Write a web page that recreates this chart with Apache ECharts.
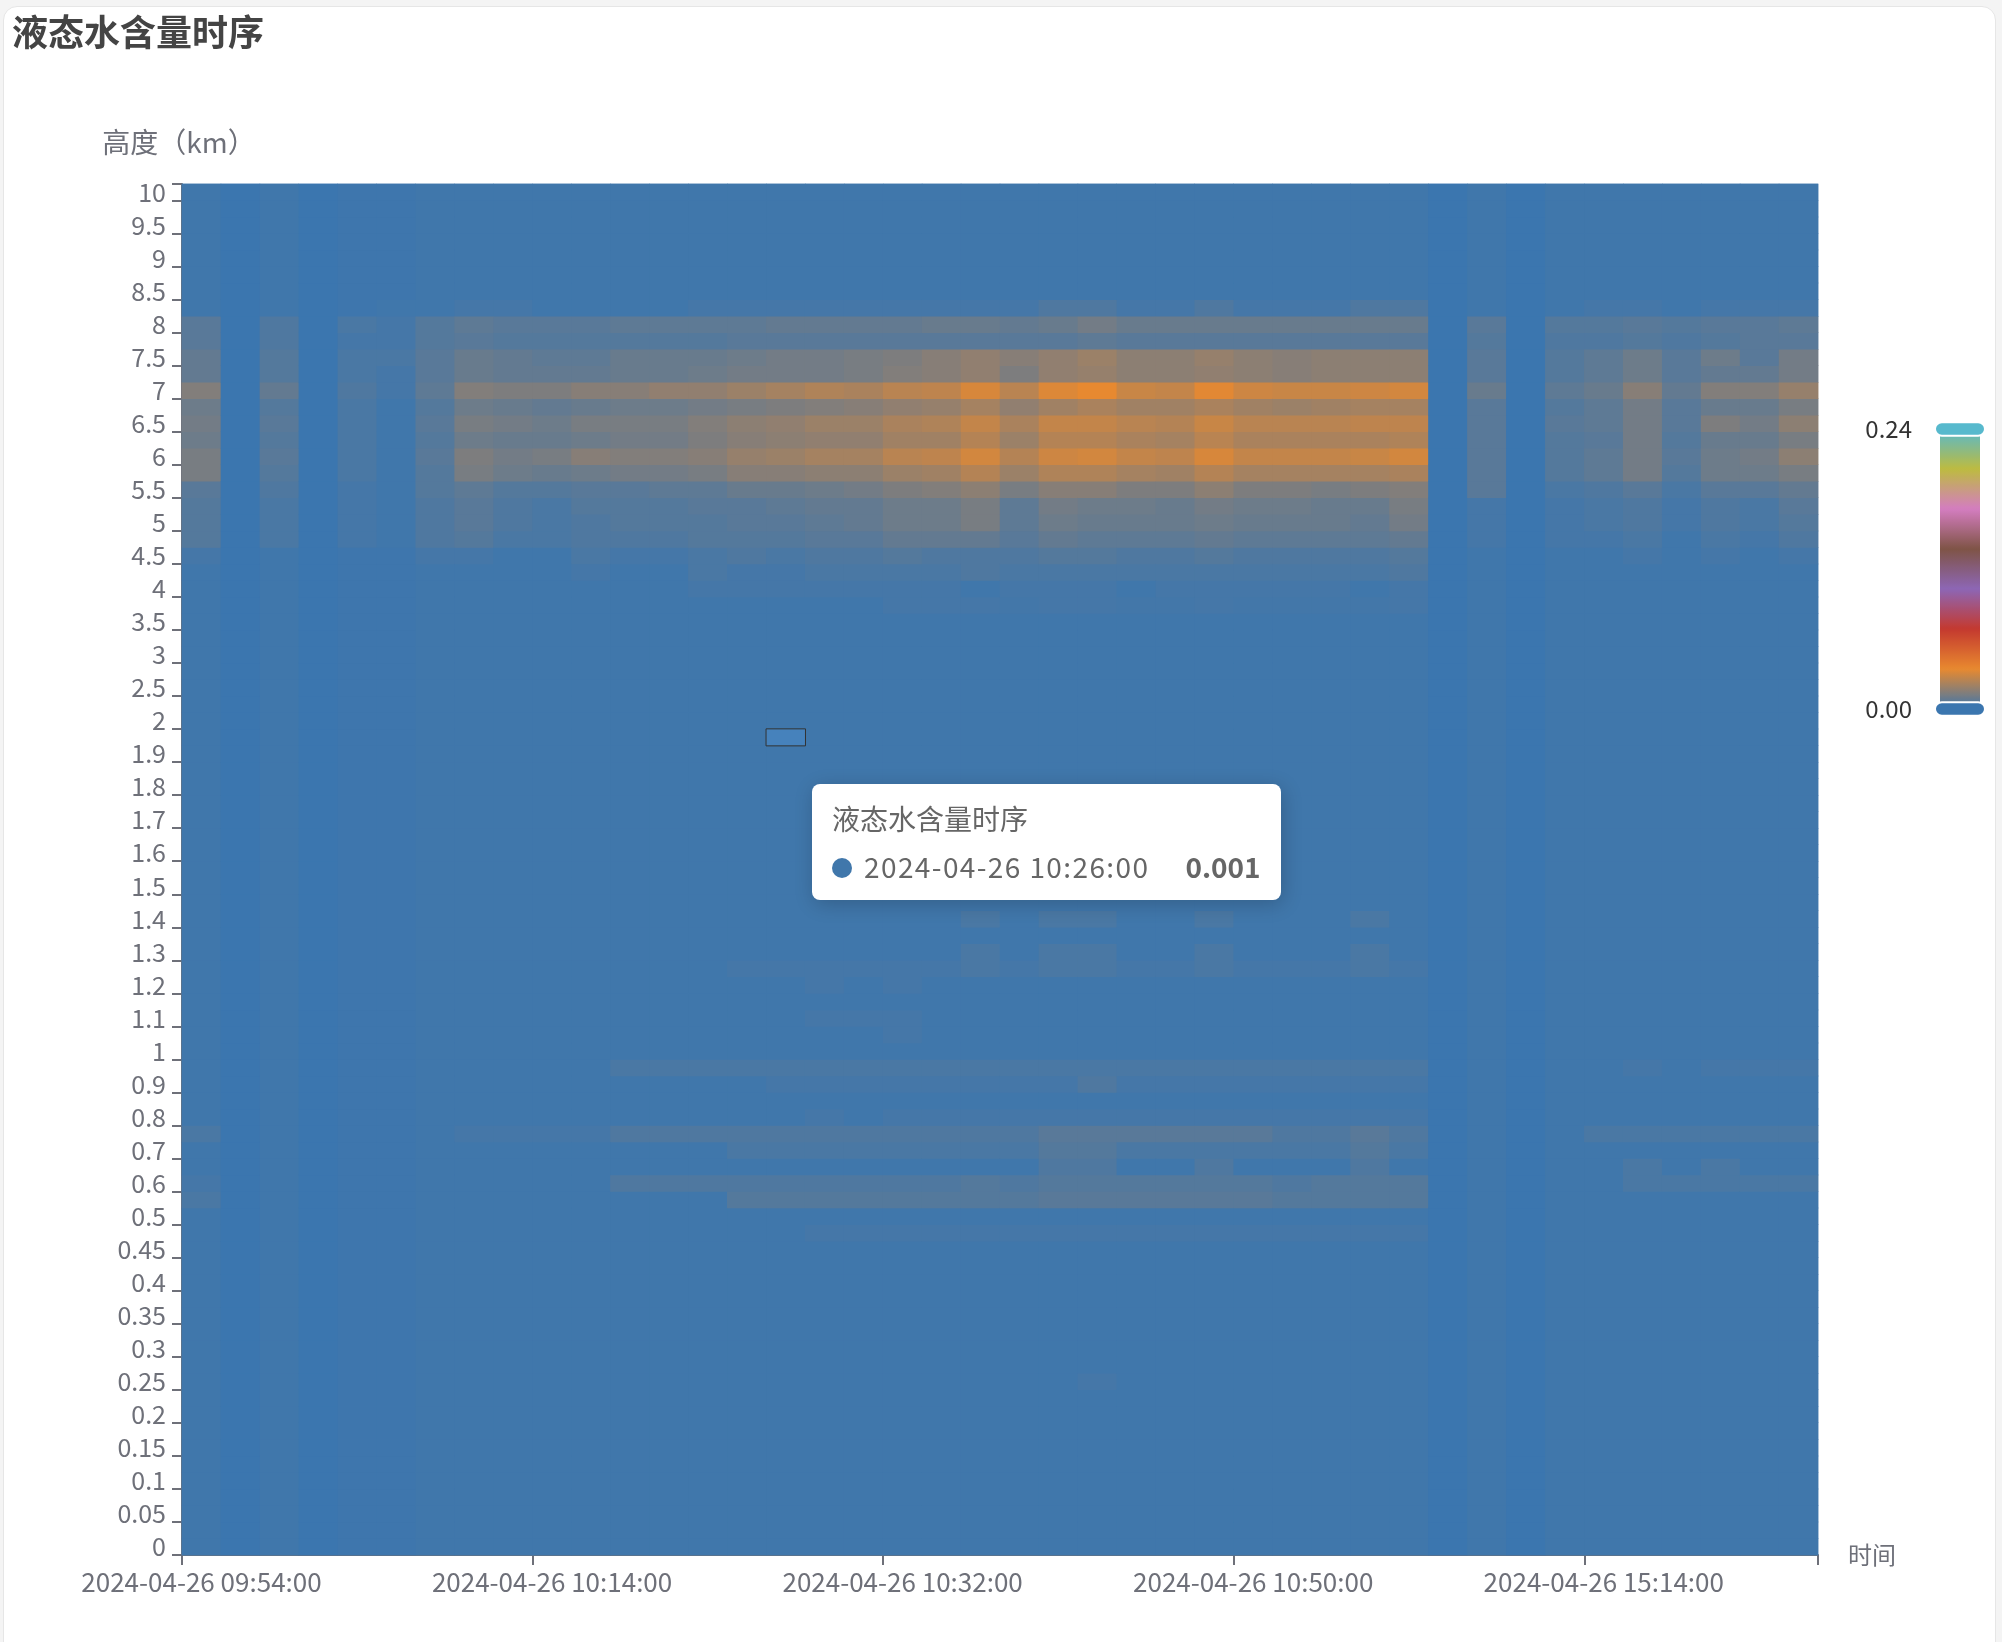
<!DOCTYPE html>
<html>
<head>
<meta charset="utf-8">
<script src="https://cdn.jsdelivr.net/npm/echarts@6/dist/echarts.min.js"></script>
<style>
  html, body { margin: 0; padding: 0; background: #f4f4f4; width: 2002px; height: 1642px; overflow: hidden; }
  #card { position: absolute; left: 3px; top: 6px; width: 1991px; height: 1700px; background: #fff; border: 1px solid #e6e6e6; border-radius: 14px; }
  #chart { position: absolute; left: 0; top: 0; width: 2002px; height: 1642px; }
</style>
</head>
<body>
<div id="card"></div>
<div id="chart"></div>
<script>
// ---- time categories (x axis) ----
const times = [
  '2024-04-26 09:54:00','2024-04-26 09:56:00','2024-04-26 09:58:00','2024-04-26 10:00:00','2024-04-26 10:02:00',
  '2024-04-26 10:04:00','2024-04-26 10:06:00','2024-04-26 10:08:00','2024-04-26 10:10:00','2024-04-26 10:14:00',
  '2024-04-26 10:16:00','2024-04-26 10:18:00','2024-04-26 10:20:00','2024-04-26 10:22:00','2024-04-26 10:24:00',
  '2024-04-26 10:26:00','2024-04-26 10:28:00','2024-04-26 10:30:00','2024-04-26 10:32:00','2024-04-26 10:34:00',
  '2024-04-26 10:36:00','2024-04-26 10:38:00','2024-04-26 10:40:00','2024-04-26 10:42:00','2024-04-26 10:44:00',
  '2024-04-26 10:46:00','2024-04-26 10:48:00','2024-04-26 10:50:00','2024-04-26 10:52:00','2024-04-26 10:54:00',
  '2024-04-26 10:56:00','2024-04-26 10:58:00','2024-04-26 15:06:00','2024-04-26 15:08:00','2024-04-26 15:10:00',
  '2024-04-26 15:12:00','2024-04-26 15:14:00','2024-04-26 15:16:00','2024-04-26 15:18:00','2024-04-26 15:20:00',
  '2024-04-26 15:22:00','2024-04-26 15:24:00'
];

// ---- height categories (y axis, km) ----
const heights = [
  '0','0.025','0.05','0.075','0.1','0.125','0.15','0.175','0.2','0.225','0.25','0.275','0.3','0.325','0.35','0.375','0.4','0.425','0.45','0.475','0.5',
  '0.55','0.6','0.65','0.7','0.75','0.8','0.85','0.9','0.95','1','1.05','1.1','1.15','1.2','1.25','1.3','1.35','1.4','1.45','1.5',
  '1.55','1.6','1.65','1.7','1.75','1.8','1.85','1.9','1.95','2',
  '2.25','2.5','2.75','3','3.25','3.5','3.75','4','4.25','4.5','4.75','5','5.25','5.5','5.75','6','6.25','6.5','6.75','7',
  '7.25','7.5','7.75','8','8.25','8.5','8.75','9','9.25','9.5','9.75','10'
];

// ---- background liquid water content of each time column (clear-air level) ----
const baseLwc = [.001,0,.001,0,.0005,.0005,.001,.001,.001,.001, .001,.001,.001,.001,.001,.001,.001,.001,.001,.001, .001,.001,.001,.001,.001,.001,.001,.001,.001,.001, .001,.001,0,.001,0,.001,.001,.001,.001,.001, .001,.001];

// ---- upper cloud layer: one row of 42 values per height ----
const upperLayerHeights = ['8.25','8','7.75','7.5','7.25','7','6.75','6.5','6.25','6','5.75','5.5','5.25','5','4.75','4.5','4.25','4','3.75'];
const upperLayerLwc = [
  [.001,0,.001,0,.0005,.001,.001,.002,.002,.001, .001,.001,.001,.002,.002,.002,.002,.002,.002,.002, .002,.002,.004,.004,.002,.002,.004,.002,.002,.002, .004,.004,0,.001,0,.001,.002,.002,.001,.002, .002,.002],
  [.006,0,.004,0,.003,.002,.005,.007,.006,.006, .006,.007,.007,.007,.007,.008,.008,.008,.008,.009, .009,.008,.009,.011,.009,.009,.009,.009,.009,.009, .009,.009,0,.006,0,.005,.005,.006,.005,.006, .006,.007],
  [.006,0,.004,0,.002,.002,.005,.006,.005,.005, .005,.005,.005,.005,.006,.006,.006,.006,.006,.006, .006,.006,.006,.007,.006,.006,.006,.006,.006,.006, .006,.006,0,.005,0,.004,.004,.005,.004,.005, .006,.006],
  [.008,0,.005,0,.003,.003,.006,.009,.008,.007, .007,.009,.009,.009,.01,.011,.011,.012,.013,.015, .017,.015,.017,.019,.016,.016,.018,.016,.015,.016, .016,.016,0,.006,0,.005,.007,.01,.006,.01, .006,.011],
  [.008,0,.005,0,.003,.002,.006,.009,.008,.008, .008,.009,.009,.01,.011,.011,.011,.012,.014,.015, .017,.013,.017,.018,.016,.016,.017,.016,.015,.016, .016,.016,0,.006,0,.005,.007,.01,.006,.008, .008,.011],
  [.014,0,.008,0,.004,.002,.007,.014,.013,.013, .015,.015,.017,.017,.019,.021,.023,.022,.025,.026, .031,.025,.032,.034,.028,.027,.033,.029,.028,.028, .029,.03,0,.009,0,.007,.009,.015,.008,.014, .014,.018],
  [.01,0,.005,0,.003,.001,.005,.01,.009,.008, .009,.01,.01,.011,.012,.013,.014,.015,.017,.018, .021,.017,.02,.022,.02,.02,.022,.02,.019,.02, .021,.021,0,.006,0,.005,.007,.011,.006,.009, .009,.012],
  [.011,0,.006,0,.003,.001,.006,.012,.011,.01, .012,.012,.012,.014,.016,.017,.019,.019,.022,.023, .027,.022,.027,.027,.025,.024,.028,.025,.025,.025, .026,.026,0,.006,0,.006,.007,.011,.006,.013, .011,.016],
  [.01,0,.005,0,.003,.001,.005,.01,.009,.009, .01,.011,.011,.013,.015,.016,.017,.017,.02,.02, .024,.019,.024,.024,.022,.021,.025,.022,.022,.022, .022,.023,0,.006,0,.005,.006,.011,.005,.009, .009,.012],
  [.012,0,.006,0,.003,.001,.006,.013,.011,.012, .015,.014,.014,.015,.018,.019,.021,.021,.025,.026, .03,.024,.029,.03,.027,.026,.031,.027,.027,.027, .028,.03,0,.006,0,.005,.007,.011,.006,.01, .011,.016],
  [.012,0,.005,0,.003,.001,.005,.012,.01,.009, .01,.011,.011,.012,.015,.015,.016,.016,.019,.02, .024,.019,.023,.023,.021,.02,.024,.021,.021,.021, .021,.022,0,.006,0,.005,.007,.011,.005,.01, .01,.012],
  [.006,0,.004,0,.002,.001,.005,.007,.005,.005, .006,.006,.007,.007,.009,.009,.01,.011,.013,.014, .016,.012,.015,.015,.013,.013,.016,.013,.013,.012, .013,.014,0,.006,0,.003,.004,.006,.003,.006, .006,.008],
  [.005,0,.003,0,.002,.001,.004,.006,.004,.003, .005,.005,.005,.006,.006,.007,.008,.008,.01,.01, .012,.007,.011,.01,.01,.009,.011,.01,.01,.009, .009,.012,0,.002,0,.002,.003,.004,.002,.004, .003,.006],
  [.005,0,.003,0,.002,.001,.004,.006,.004,.003, .004,.005,.005,.005,.006,.006,.007,.008,.01,.01, .012,.007,.01,.009,.009,.009,.01,.009,.009,.009, .008,.011,0,.002,0,.002,.003,.004,.002,.004, .003,.005],
  [.005,0,.003,0,.002,.001,.004,.005,.003,.003, .004,.004,.004,.005,.005,.005,.006,.006,.008,.008, .008,.006,.008,.007,.007,.007,.008,.007,.007,.007, .007,.008,0,.002,0,.002,.002,.003,.001,.003, .002,.004],
  [.002,0,.001,0,.0005,.0005,.002,.002,.001,.001, .003,.002,.002,.003,.004,.003,.004,.004,.005,.004, .004,.004,.005,.005,.004,.004,.005,.004,.004,.004, .004,.005,0,.001,0,.001,.001,.002,.001,.002, .001,.002],
  [.001,0,.001,0,.0005,.0005,.001,.001,.001,.001, .002,.001,.001,.003,.002,.002,.003,.003,.003,.003, .004,.003,.003,.003,.003,.003,.003,.003,.003,.003, .003,.004,0,.001,0,.001,.001,.001,.001,.001, .001,.001],
  [.001,0,.001,0,.0005,.0005,.001,.001,.001,.001, .001,.001,.001,.002,.002,.002,.002,.002,.002,.002, .001,.002,.002,.002,.001,.002,.002,.002,.002,.002, .001,.002,0,.001,0,.001,.001,.001,.001,.001, .001,.001],
  [.001,0,.001,0,.0005,.0005,.001,.001,.001,.001, .001,.001,.001,.001,.001,.001,.001,.001,.002,.002, .002,.0015,.002,.002,.0015,.0015,.002,.0015,.0015,.0015, .0015,.002,0,.001,0,.001,.001,.001,.001,.001, .001,.001]
];

// ---- lower (boundary-layer) features: one row of 42 values per height ----
const lowerLayerHeights = ['1.4','1.3','1.25','1.2','1.1','1.05','0.95','0.9','0.8','0.75','0.7','0.65','0.6','0.55','0.475','0.25'];
const lowerLayerLwc = [
  [.001,0,.001,0,.0005,.0005,.001,.001,.001,.001, .001,.001,.001,.001,.001,.001,.001,.001,.001,.001, .003,.001,.003,.003,.001,.001,.003,.001,.001,.001, .003,.001,0,.001,0,.001,.001,.001,.001,.001, .001,.001],
  [.001,0,.001,0,.0005,.0005,.001,.001,.001,.001, .001,.001,.001,.001,.001,.001,.001,.001,.001,.001, .003,.001,.003,.003,.001,.001,.003,.001,.001,.001, .003,.001,0,.001,0,.001,.001,.001,.001,.001, .001,.001],
  [.001,0,.001,0,.0005,.0005,.001,.001,.001,.001, .001,.001,.001,.001,.002,.002,.002,.002,.002,.002, .003,.002,.003,.003,.002,.002,.003,.002,.002,.002, .003,.002,0,.001,0,.001,.001,.001,.001,.001, .001,.001],
  [.001,0,.001,0,.0005,.0005,.001,.001,.001,.001, .001,.001,.001,.001,.001,.001,.002,.001,.002,.001, .001,.001,.001,.001,.001,.001,.001,.001,.001,.001, .001,.001,0,.001,0,.001,.001,.001,.001,.001, .001,.001],
  [.001,0,.001,0,.0005,.0005,.001,.001,.001,.001, .001,.001,.001,.001,.001,.001,.002,.002,.002,.001, .001,.001,.001,.001,.001,.001,.001,.001,.001,.001, .001,.001,0,.001,0,.001,.001,.001,.001,.001, .001,.001],
  [.001,0,.001,0,.0005,.0005,.001,.001,.001,.001, .001,.001,.001,.001,.001,.001,.001,.001,.002,.001, .001,.001,.001,.001,.001,.001,.001,.001,.001,.001, .001,.001,0,.001,0,.001,.001,.001,.001,.001, .001,.001],
  [.001,0,.001,0,.0005,.0005,.001,.001,.001,.001, .001,.003,.003,.003,.003,.003,.003,.003,.003,.003, .003,.003,.003,.003,.003,.003,.003,.003,.003,.003, .003,.003,0,.001,0,.001,.001,.002,.001,.002, .002,.002],
  [.001,0,.001,0,.0005,.0005,.001,.001,.001,.001, .001,.001,.001,.001,.001,.002,.002,.002,.002,.002, .002,.002,.002,.004,.002,.002,.002,.002,.002,.002, .002,.002,0,.001,0,.001,.001,.001,.001,.001, .001,.001],
  [.001,0,.001,0,.0005,.0005,.001,.001,.001,.001, .001,.001,.001,.001,.001,.001,.002,.001,.002,.002, .002,.002,.002,.002,.002,.002,.002,.002,.002,.002, .002,.002,0,.001,0,.001,.001,.001,.001,.001, .001,.001],
  [.003,0,.001,0,.0005,.0005,.001,.002,.002,.002, .002,.004,.004,.004,.004,.004,.004,.004,.004,.004, .004,.004,.006,.006,.006,.006,.006,.006,.004,.004, .006,.004,0,.001,0,.001,.003,.003,.003,.003, .003,.003],
  [.001,0,.001,0,.0005,.0005,.001,.001,.001,.001, .001,.001,.001,.001,.003,.003,.003,.003,.003,.003, .003,.003,.005,.005,.003,.003,.003,.003,.003,.003, .005,.003,0,.001,0,.001,.001,.001,.001,.001, .001,.001],
  [.001,0,.001,0,.0005,.0005,.001,.001,.001,.001, .001,.001,.001,.001,.001,.001,.001,.001,.001,.001, .001,.001,.004,.004,.001,.001,.004,.001,.001,.001, .004,.001,0,.001,0,.001,.001,.003,.001,.003, .001,.001],
  [.002,0,.001,0,.0005,.0005,.001,.001,.001,.001, .001,.004,.004,.004,.004,.004,.004,.004,.004,.004, .005,.004,.005,.005,.005,.005,.005,.005,.004,.005, .005,.005,0,.001,0,.001,.001,.003,.003,.003, .003,.003],
  [.003,0,.001,0,.0005,.0005,.001,.001,.001,.001, .001,.001,.001,.001,.005,.005,.005,.005,.005,.005, .005,.005,.006,.006,.006,.006,.006,.006,.005,.005, .005,.005,0,.001,0,.001,.001,.001,.001,.001, .001,.001],
  [.001,0,.001,0,.0005,.0005,.001,.001,.001,.001, .001,.001,.001,.001,.001,.001,.002,.002,.002,.002, .002,.002,.002,.002,.002,.002,.002,.002,.002,.002, .002,.002,0,.001,0,.001,.001,.001,.001,.001, .001,.001],
  [.001,0,.001,0,.0005,.0005,.001,.001,.001,.001, .001,.001,.001,.001,.001,.001,.001,.001,.001,.001, .001,.001,.001,.002,.001,.001,.001,.001,.001,.001, .001,.001,0,.001,0,.001,.001,.001,.001,.001, .001,.001]
];

// ---- colour scale ----
const scaleMin = 0;
const scaleMax = 0.24;
const scaleColors = ['#3b76af', '#e8892f', '#c4392f', '#8d66b5', '#7f5446', '#d47dc0', '#bdbb40', '#57b9cd'];

// hovered cell shown in the reference
const hoverTime = '2024-04-26 10:26:00';
const hoverHeight = '1.95';

// ---- assemble heatmap cells ----
const rowLookup = {};
upperLayerHeights.forEach((h, i) => { rowLookup[heights.indexOf(h)] = upperLayerLwc[i]; });
lowerLayerHeights.forEach((h, i) => { rowLookup[heights.indexOf(h)] = lowerLayerLwc[i]; });
const cells = [];
for (let x = 0; x < times.length; x++) {
  for (let y = 0; y < heights.length; y++) {
    const row = rowLookup[y];
    cells.push([x, y, row ? row[x] : baseLwc[x]]);
  }
}

const FONT = '"Noto Sans CJK SC", "Noto Sans", sans-serif';
const AXIS_COLOR = '#6e7079';

const heatLayer = {
  name: '液态水含量时序',
  type: 'heatmap',
  data: cells,
  progressive: 0,
  emphasis: { itemStyle: { borderColor: '#333', borderWidth: 2 } }
};

const chart = echarts.init(document.getElementById('chart'), null, { renderer: 'canvas' });
const option = {
  animation: false,
  backgroundColor: 'transparent',
  textStyle: { fontFamily: FONT },
  title: {
    text: '液态水含量时序',
    left: 12, top: 14, padding: 0,
    textStyle: { fontSize: 36, fontWeight: 'bold', color: '#444', fontFamily: FONT }
  },
  grid: {
    left: 182, right: 184, top: 184, bottom: 87,
    containLabel: false, outerBoundsMode: 'none',
    show: true, backgroundColor: '#3d76ac', borderWidth: 0
  },
  xAxis: {
    type: 'category',
    data: times,
    name: '时间',
    nameLocation: 'end',
    nameGap: 30,
    nameTextStyle: { fontSize: 24, color: AXIS_COLOR, fontFamily: FONT },
    axisLine: { show: true, lineStyle: { color: AXIS_COLOR, width: 2 } },
    axisTick: { show: true, interval: 8, length: 10, lineStyle: { color: AXIS_COLOR, width: 2 } },
    axisLabel: { interval: 8, fontSize: 26, color: AXIS_COLOR, margin: 14, hideOverlap: false, fontFamily: FONT },
    splitLine: { show: false },
    splitArea: { show: false }
  },
  yAxis: {
    type: 'category',
    data: heights,
    name: '高度（km）',
    nameLocation: 'end',
    nameGap: 28,
    nameTextStyle: { fontSize: 28, color: AXIS_COLOR, padding: [0, 6, 0, 0], fontFamily: FONT },
    axisLine: { show: true, lineStyle: { color: AXIS_COLOR, width: 2 } },
    axisTick: { show: true, interval: 1, length: 10, lineStyle: { color: AXIS_COLOR, width: 2 } },
    axisLabel: { interval: 1, fontSize: 25, color: AXIS_COLOR, margin: 16, hideOverlap: false, fontFamily: FONT },
    splitLine: { show: false },
    splitArea: { show: false }
  },
  visualMap: {
    type: 'continuous',
    min: scaleMin,
    max: scaleMax,
    precision: 2,
    calculable: true,
    orient: 'vertical',
    right: 16,
    top: 417,
    padding: 0,
    itemWidth: 40,
    itemHeight: 280,
    textGap: 20,
    seriesIndex: [0, 1],
    textStyle: { fontSize: 24, color: '#333', fontFamily: FONT },
    handleStyle: { borderColor: '#fff', borderWidth: 2 },
    inRange: { color: scaleColors }
  },
  tooltip: {
    trigger: 'item',
    alwaysShowContent: true,
    transitionDuration: 0,
    position: [812, 784],
    backgroundColor: '#fff',
    borderWidth: 0,
    padding: [20, 20],
    extraCssText: 'box-shadow: rgba(0,0,0,0.2) 2px 4px 20px; border-radius: 8px;',
    formatter: function (p) {
      const name = times[p.value[0]];
      const val = p.value[2];
      return '<div style="margin:0;line-height:1;font-family:' + FONT.replace(/"/g, "'") + ';">' +
        '<div style="font-size:28px;color:#666;font-weight:400;line-height:1;">' + p.seriesName + '</div>' +
        '<div style="margin:20px 0 0;line-height:1;">' +
        '<span style="display:inline-block;margin-right:8px;border-radius:20px;width:20px;height:20px;background-color:' + p.color + ';"></span>' +
        '<span style="font-size:28px;color:#666;font-weight:400;margin-left:4px;letter-spacing:1.4px;">' + name + '</span>' +
        '<span style="float:right;margin-left:36px;font-size:28px;color:#666;font-weight:700;">' + val + '</span>' +
        '<div style="clear:both"></div></div></div>';
    }
  },
  // two identical layers so that the sub-pixel seams between cells are filled
  series: [Object.assign({}, heatLayer), Object.assign({}, heatLayer)]
};
chart.setOption(option);

const hoverIndex = times.indexOf(hoverTime) * heights.length + heights.indexOf(hoverHeight);
chart.dispatchAction({ type: 'highlight', seriesIndex: 1, dataIndex: hoverIndex });
chart.dispatchAction({ type: 'showTip', seriesIndex: 1, dataIndex: hoverIndex });
</script>
</body>
</html>
